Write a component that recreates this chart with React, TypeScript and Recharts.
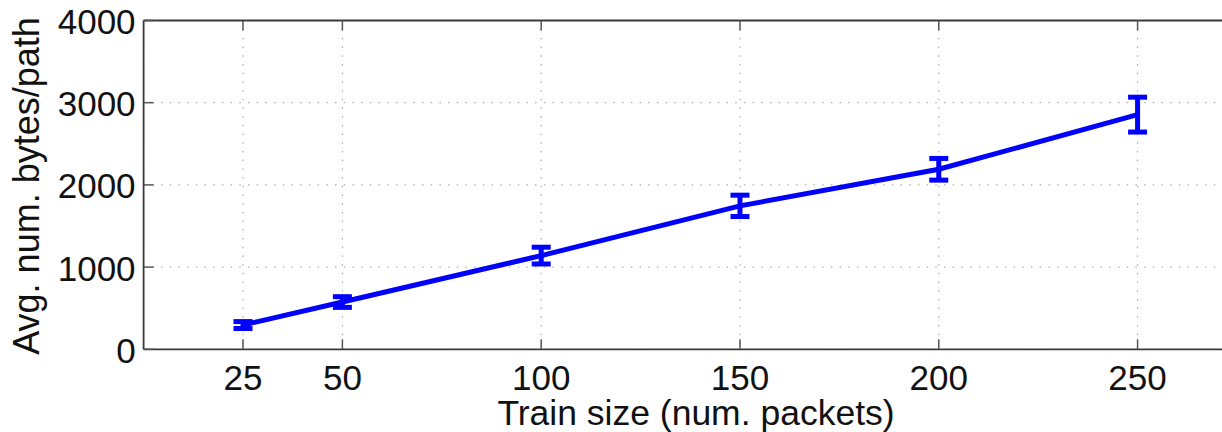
import React from 'react';
import {
  LineChart,
  Line,
  XAxis,
  YAxis,
  CartesianGrid,
  ErrorBar,
  Label,
} from 'recharts';

// Train size (packets) vs. average bytes per path, with spread
const trainSizes = [25, 50, 100, 150, 200, 250];
const avgBytes = [295, 575, 1140, 1745, 2190, 2855];
const bytesSpread = [42, 65, 102, 130, 132, 212];

const xTicks = [25, 50, 100, 150, 200, 250];
const yTicks = [0, 1000, 2000, 3000, 4000];

const data = trainSizes.map((size, i) => ({
  size,
  avg: avgBytes[i],
  err: bytesSpread[i],
}));

const FONT = '"Liberation Sans", Arial, Helvetica, sans-serif';
const AXIS = '#3a3a3a';
const BLUE = '#0000ff';

const BottomTick = (props: any) => {
  const { x, y, payload } = props;
  return (
    <g>
      <line x1={x} y1={y} x2={x} y2={y - 10} stroke="#555" strokeWidth={1.5} />
      <text
        x={x}
        y={y + 40.5}
        textAnchor="middle"
        fontFamily={FONT}
        fontSize={35}
        fill="#111"
      >
        {payload.value}
      </text>
    </g>
  );
};

const TopTick = (props: any) => {
  const { x, y } = props;
  return <line x1={x} y1={y} x2={x} y2={y + 10} stroke="#555" strokeWidth={1.5} />;
};

const LeftTick = (props: any) => {
  const { x, y, payload } = props;
  return (
    <g>
      <line x1={x} y1={y} x2={x + 10} y2={y} stroke="#555" strokeWidth={1.5} />
      <text
        x={x - 8}
        y={y + 13.5}
        textAnchor="end"
        fontFamily={FONT}
        fontSize={35}
        fill="#111"
      >
        {payload.value}
      </text>
    </g>
  );
};

export default function App() {
  return (
    <div
      style={{
        position: 'absolute',
        left: 0,
        top: 0,
        width: 1222,
        height: 432,
        overflow: 'hidden',
        background: '#fff',
      }}
    >
      <LineChart
        width={1300}
        height={432}
        data={data}
        margin={{ top: 10.5, left: 83.6, right: 51.1, bottom: 42.7 }}
      >
        <CartesianGrid
          stroke="#9a9a9a"
          strokeWidth={1}
          strokeDasharray="1.5 7.2"
        />
        <XAxis
          dataKey="size"
          type="number"
          domain={[0, 278]}
          ticks={xTicks}
          height={40}
          tickSize={0}
          tickMargin={0}
          interval={0}
          axisLine={{ stroke: AXIS, strokeWidth: 1.8 }}
          tickLine={false}
          tick={<BottomTick />}
        >
          <Label
            content={() => (
              <text
                x={696}
                y={425}
                textAnchor="middle"
                fontFamily={FONT}
                fontSize={35.5}
                fill="#111"
              >
                Train size (num. packets)
              </text>
            )}
          />
        </XAxis>
        <XAxis
          xAxisId="top"
          orientation="top"
          dataKey="size"
          type="number"
          domain={[0, 278]}
          ticks={xTicks}
          height={10}
          tickSize={0}
          tickMargin={0}
          interval={0}
          axisLine={{ stroke: AXIS, strokeWidth: 1.8 }}
          tickLine={false}
          tick={<TopTick />}
        />
        <YAxis
          type="number"
          domain={[0, 4000]}
          ticks={yTicks}
          width={60}
          tickSize={0}
          tickMargin={0}
          interval={0}
          axisLine={{ stroke: AXIS, strokeWidth: 1.8 }}
          tickLine={false}
          tick={<LeftTick />}
        >
          <Label
            content={() => (
              <text
                x={39}
                y={186}
                transform="rotate(-90, 39, 186)"
                textAnchor="middle"
                fontFamily={FONT}
                fontSize={36}
                fill="#111"
              >
                Avg. num. bytes/path
              </text>
            )}
          />
        </YAxis>
        <Line
          type="linear"
          dataKey="avg"
          stroke={BLUE}
          strokeWidth={5}
          dot={false}
          activeDot={false}
          isAnimationActive={false}
        >
          <ErrorBar
            dataKey="err"
            direction="y"
            width={9.5}
            stroke={BLUE}
            strokeWidth={5}
            isAnimationActive={false}
          />
        </Line>
      </LineChart>
    </div>
  );
}
